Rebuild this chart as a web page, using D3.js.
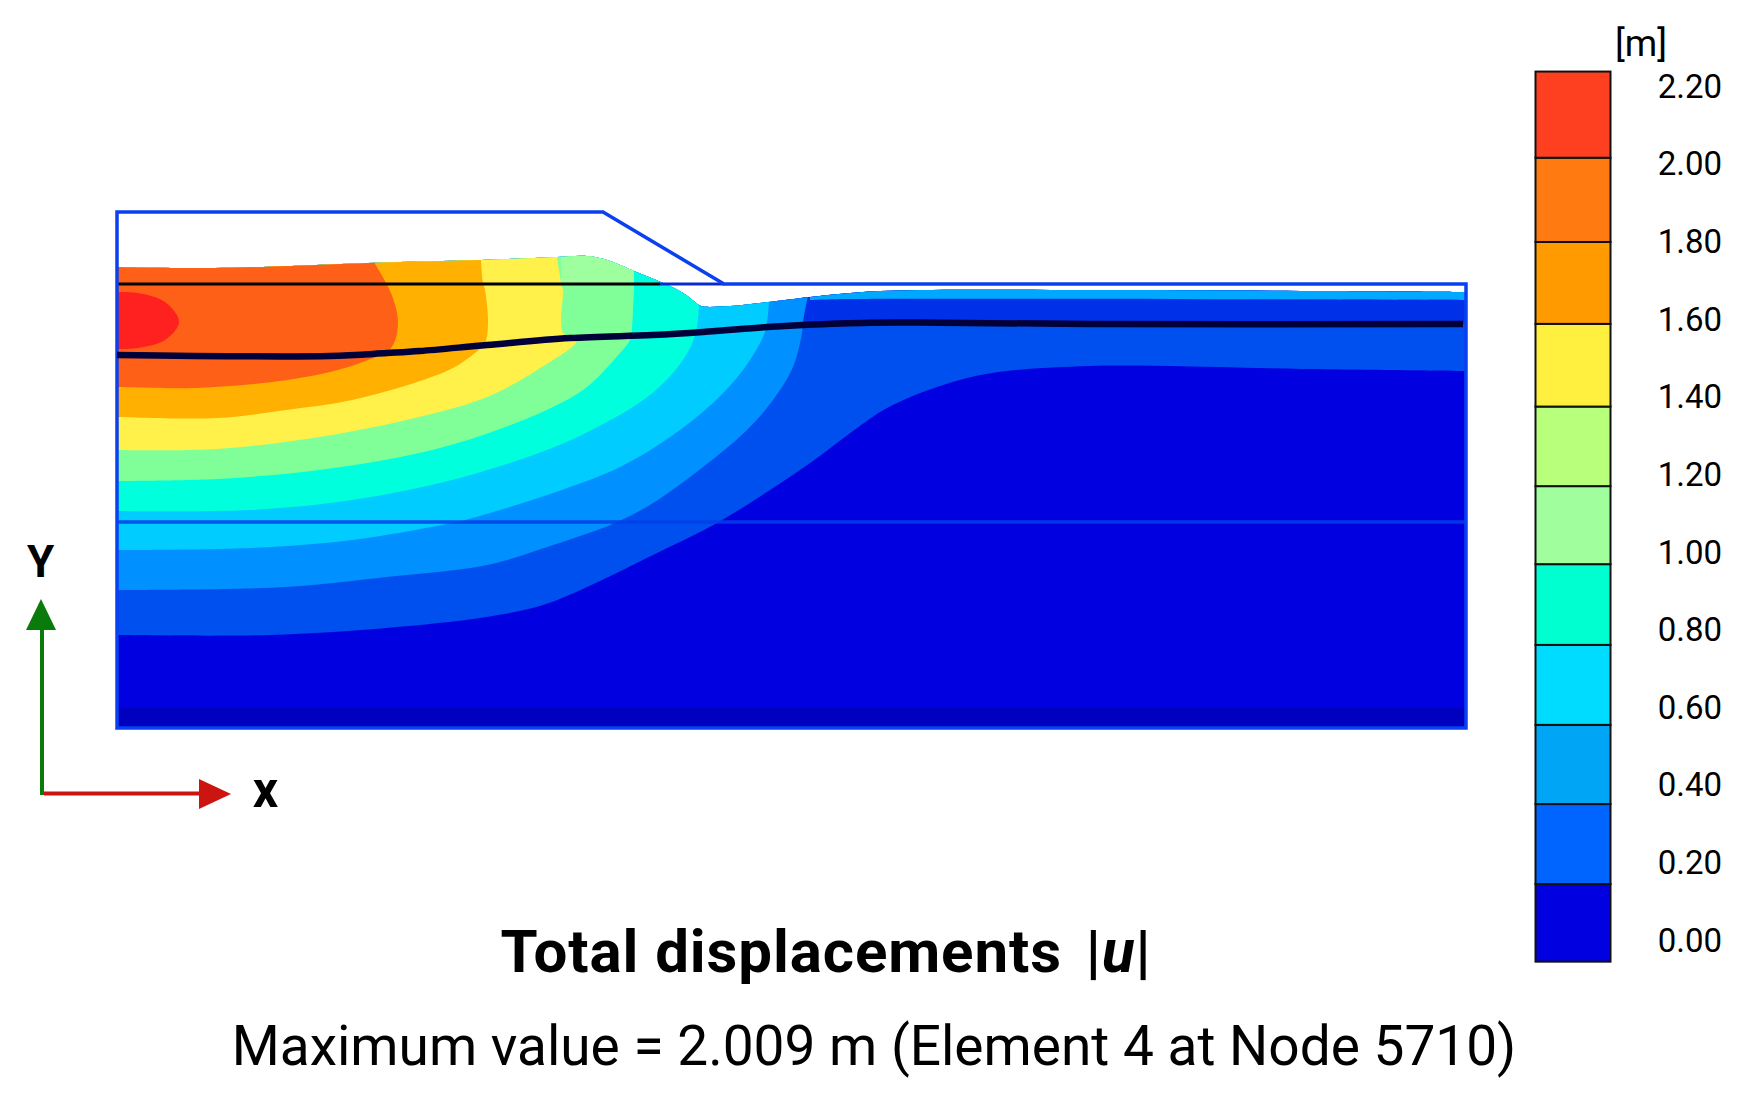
<!DOCTYPE html>
<html>
<head>
<meta charset="utf-8">
<script src="https://cdn.jsdelivr.net/npm/d3@7"></script>
<style>
body{margin:0;background:#fff}
text{font-family:Roboto,"Liberation Sans",sans-serif;fill:#000}
</style>
</head>
<body>
<svg></svg>
<script>
// model section, in metres
var sectionWidth = 135
var sectionHeight = 51.6

var frame = [[0,51.6],[48.6,51.6],[60.7,44.4],[134.9,44.4],[134.9,0],[0,0]]
var surface = [[0,46.1],[9.8,46],[28.3,46.6],[36.4,46.8],[44,47.1],[47,47.2],[49,46.8],[51.7,45.7],[54.6,44.5],[56.6,43.5],[58.2,42.3],[58.6,42.15],[61.3,42.2],[65.1,42.6],[69.3,43.1],[76.3,43.7],[97.1,43.8],[121.3,43.7],[135,43.6]]
var blackLine = [[0,37.3],[21.3,37.2],[27,37.5],[30.3,37.7],[37,38.3],[45.3,39],[53.6,39.3],[58.6,39.6],[65,40.1],[68.6,40.3],[75.3,40.53],[82.3,40.53],[97.1,40.4],[134.6,40.4]]

// contour lines, outer to inner
var contour02 = [[0,9.3],[15.2,9.3],[26.9,10],[36.9,11.1],[42.6,12.3],[47,14.1],[53.6,17.3],[60,20.5],[65.3,23.8],[69.6,26.7],[73.6,29.7],[77,32],[82.3,34.2],[87.5,35.5],[97.1,36.2],[105.2,36.2],[118.6,35.9],[135,35.7]]
var upperDark = [[68.6,40.3],[75.3,40.53],[97.1,40.4],[135,40.4]]
var upperBand = [[69.3,42.8],[73,42.9],[135,42.8]]
var contour04 = [[0,13.8],[16.9,14.1],[26.9,15.1],[37,16.3],[43.6,18.3],[49.8,20.5],[53.6,22.5],[58.6,26.1],[63,29.8],[65.6,32.8],[67.6,36.1],[68.5,39.5],[68.6,40.6],[68.8,41.8],[69.3,44]]
var contour06 = [[0,17.8],[13.3,18],[23.5,18.8],[33.5,20.5],[35.2,20.9],[43.6,23.5],[50.3,26.1],[55.3,29.1],[59.6,32.5],[62.6,35.8],[64.6,39.1],[65,40.5],[65.2,42.6]]
var contour08 = [[0,21.7],[13.3,21.8],[23.5,22.8],[33.5,24.8],[43.5,28],[48.6,30.4],[51.9,32.3],[54,33.9],[56,36],[57.4,38.2],[58,40.1],[58.2,42.3]]
var contour10 = [[0,24.7],[10,24.9],[20.2,25.8],[30.2,27.5],[36.9,29.4],[43.6,32.1],[47,34.1],[50.3,37.5],[51.3,38.8],[51.5,40],[51.6,41.8],[51.7,44.1],[51.7,45.6]]
var contour14 = [[0,27.8],[10,27.9],[20.2,29.1],[30.2,31.1],[37,33.1],[42,35.8],[46,38.8],[44.6,39.5],[44.6,43.8],[44.5,44.1],[44,47.1]]
var contour16 = [[0,31.1],[10,31],[16.9,31.8],[23.5,32.8],[30.3,34.7],[33.6,36],[35.8,37.5],[36.8,38.5],[37.1,40.5],[36.8,43.8],[36.6,44.5],[36.4,46.8]]
var contour18 = [[0,34.1],[7.9,34],[15.5,34.6],[21.3,35.6],[25.1,36.8],[27.4,38],[28.1,40.5],[27.4,43.5],[25.8,46.4]]
var embankGreen = [[44.4,44.3],[51.7,44.3]]
var contour20 = [[0,43.6],[2.1,43.5],[4.8,42.6],[6.2,40.6],[4.8,38.8],[2.1,38],[0,37.9]]

var baseColor = "#0000e0"
var contours = [contour02,upperDark,upperBand,contour04,contour06,contour08,contour10,contour14,contour16,contour18,embankGreen]
var contourColors = ["#0050f0","#0030e8","#00a8ff","#0090ff","#00ccff","#00ffdd","#80ff99","#fff14a","#ffb000","#ff6018","#9dff9d"]

var interfaceDepth = 20.6
var bottomLayerTop = 2

// legend
var legendTicks = [0,0.2,0.4,0.6,0.8,1,1.2,1.4,1.6,1.8,2,2.2]
var legendEdges = [-0.054,0.146,0.352,0.556,0.762,0.97,1.171,1.376,1.589,1.8,2.017,2.239]
var legendColors = ["#0000e0","#0064ff","#00a6f5","#00dcff","#00ffd0","#a0ff9c","#b8ff7c","#fff040","#ff9a00","#ff7a10","#ff4020"]

var svg = d3.select("svg").attr("width",1749).attr("height",1094)

var x = d3.scaleLinear().domain([0,sectionWidth]).range([117,1467])
var y = d3.scaleLinear().domain([0,sectionHeight]).range([728,212])

var smooth = d3.line().x(d=>x(d[0])).y(d=>y(d[1])).curve(d3.curveCatmullRom.alpha(0.5))

// contour line closed up to the top of the section
function region(pts){
  var a = pts[0], b = pts[pts.length-1]
  return smooth(pts)+"L"+x(b[0])+","+y(sectionHeight)+"L"+x(a[0])+","+y(sectionHeight)+"Z"
}

svg.append("clipPath").attr("id","soil")
  .append("path")
  .attr("d",smooth(surface)+"L"+x(sectionWidth)+","+y(0)+"L"+x(0)+","+y(0)+"Z")

var soil = svg.append("g").attr("clip-path","url(#soil)")

soil.append("rect")
  .attr("x",x(0)).attr("y",y(sectionHeight))
  .attr("width",x(sectionWidth)-x(0)).attr("height",y(0)-y(sectionHeight))
  .attr("fill",baseColor)

soil.append("rect")
  .attr("x",x(0)).attr("y",y(bottomLayerTop))
  .attr("width",x(sectionWidth)-x(0)).attr("height",y(0)-y(bottomLayerTop))
  .attr("fill","#0000c0")

soil.selectAll("path.band")
  .data(contours)
  .enter()
  .append("path")
  .attr("class","band")
  .attr("d",region)
  .attr("fill",(d,i)=>contourColors[i])

// red core closes on the left edge
soil.append("path")
  .attr("d",smooth(contour20)+"Z")
  .attr("fill","#ff2020")

// layer interface
svg.append("line")
  .attr("x1",x(0)).attr("x2",x(134.9))
  .attr("y1",y(interfaceDepth)).attr("y2",y(interfaceDepth))
  .attr("stroke","#0040e8").attr("stroke-opacity",0.85).attr("stroke-width",3.5)

// original ground level, black part then blue into the frame
svg.append("line")
  .attr("x1",x(54.3)).attr("x2",x(60.7))
  .attr("y1",y(44.4)).attr("y2",y(44.4))
  .attr("stroke","#0a2ad0").attr("stroke-width",3)
svg.append("line")
  .attr("x1",x(0)).attr("x2",x(54.3))
  .attr("y1",y(44.4)).attr("y2",y(44.4))
  .attr("stroke","#000").attr("stroke-width",3)

svg.append("path")
  .attr("d",d3.line().x(d=>x(d[0])).y(d=>y(d[1]))(frame)+"Z")
  .attr("fill","none")
  .attr("stroke","#0a40f0")
  .attr("stroke-width",3.5)

svg.append("path")
  .attr("d",smooth(blackLine))
  .attr("fill","none")
  .attr("stroke","#00003a")
  .attr("stroke-width",6.5)

// colour legend
var legendY = d3.scaleLinear().domain([0,2.2]).range([940.7,86.7])
var legend = svg.append("g")

legend.selectAll("rect")
  .data(legendColors)
  .enter()
  .append("rect")
  .attr("x",1535.5)
  .attr("width",75)
  .attr("y",(d,i)=>legendY(legendEdges[i+1]))
  .attr("height",(d,i)=>legendY(legendEdges[i])-legendY(legendEdges[i+1]))
  .attr("fill",d=>d)
  .attr("stroke","#111")
  .attr("stroke-width",2)

var legendAxis = svg.append("g")
  .attr("transform","translate(1722,0)")
  .call(d3.axisLeft(legendY).tickValues(legendTicks).tickSize(0).tickPadding(0).tickFormat(d3.format(".2f")))
legendAxis.select(".domain").remove()
legendAxis.selectAll("text")
  .style("font-family","Roboto,'Liberation Sans',sans-serif")
  .style("font-size","33px")
  .attr("fill","#000")

svg.append("text").text("[m]")
  .attr("x",1641).attr("y",56)
  .attr("text-anchor","middle")
  .style("font-size","37px")

// axis triad
svg.append("line").attr("x1",42).attr("x2",42).attr("y1",795).attr("y2",628)
  .attr("stroke","#0a7a0a").attr("stroke-width",4)
svg.append("path").attr("d","M41,599L56,630L26,630Z").attr("fill","#0a7a0a")
svg.append("line").attr("x1",44).attr("x2",201).attr("y1",793.5).attr("y2",793.5)
  .attr("stroke","#cc1510").attr("stroke-width",4)
svg.append("path").attr("d","M231,794L199,779L199,809Z").attr("fill","#cc1510")

svg.append("text").text("Y")
  .attr("x",40.5).attr("y",577)
  .attr("text-anchor","middle")
  .style("font-size","44px").style("font-weight",700)
svg.append("text").text("x")
  .attr("x",265.5).attr("y",807)
  .attr("text-anchor","middle")
  .style("font-size","50px").style("font-weight",700)

// captions
var title = svg.append("text")
  .attr("x",826).attr("y",972)
  .attr("text-anchor","middle")
  .style("font-size","60px").style("font-weight",700).style("letter-spacing","0.9px")
title.append("tspan").text("Total displacements")
title.append("tspan").attr("dx",24).text("|")
title.append("tspan").style("font-style","italic").text("u")
title.append("tspan").text("|")

svg.append("text").text("Maximum value = 2.009 m (Element 4 at Node 5710)")
  .attr("x",874).attr("y",1065)
  .attr("text-anchor","middle")
  .style("font-size","55px")
</script>
</body>
</html>
